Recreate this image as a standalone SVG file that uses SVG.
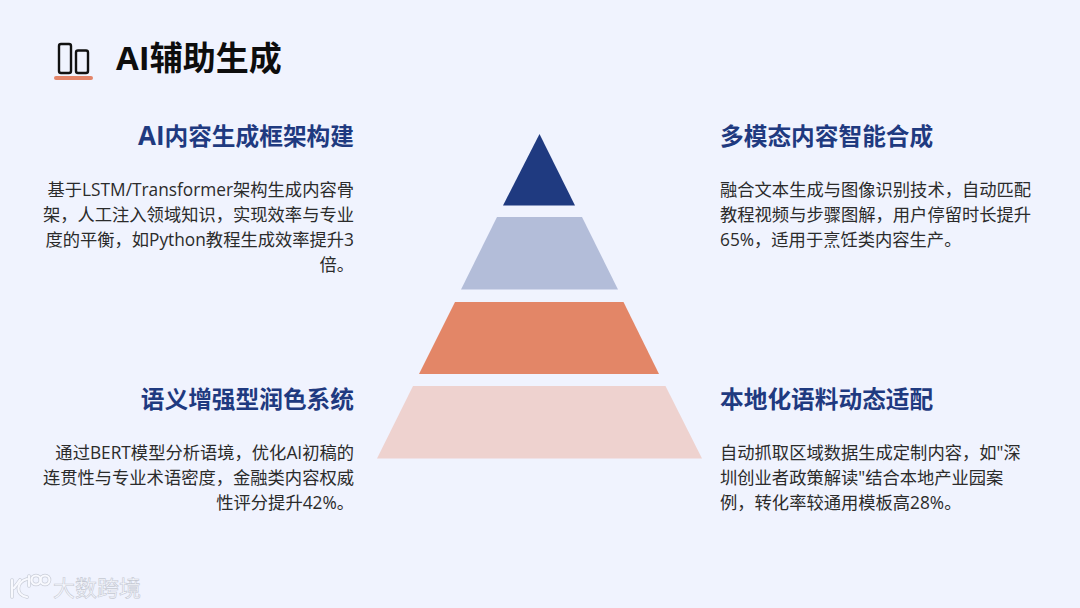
<svg xmlns="http://www.w3.org/2000/svg" width="1080" height="608" viewBox="0 0 1080 608">
<style>
text{font-family:"Open Sans","Noto Sans CJK SC",sans-serif}
.h{font-size:23.700px;font-weight:700;fill:#1f3a80}
.b{font-size:17.300px;fill:#2b2b2b}
.r{text-anchor:end}
.wm{fill:#f8f9fe;stroke:#c4c8d2;stroke-width:.6px}
.lo{fill:none;stroke:#c9cdd8;stroke-width:3.600px;stroke-linecap:round}
.li{fill:none;stroke:#f8f9fe;stroke-width:2.200px;stroke-linecap:round}
</style>
<defs>
<g id="logo">
<path d="M12 580V597"/>
<path d="M14 588L20 580"/>
<path d="M27 579C16 582 15 595 27 597"/>
<path d="M29 576V586"/>
<circle cx="36" cy="580" r="4.500"/>
<circle cx="45" cy="580" r="4.500"/>
</g>
</defs>
<rect width="1080" height="608" fill="#f0f3fe"/>
<g id="title-icon" fill="none" stroke="#111" stroke-width="2.400">
<rect x="59" y="44" width="12" height="29" rx="2"/>
<rect x="76" y="50.500" width="12" height="22.500" rx="2"/>
<line x1="56" y1="78" x2="91" y2="78" stroke="#e3856a" stroke-width="4" stroke-linecap="round"/>
</g>
<text id="title" x="116" y="70" font-size="33" font-weight="700" fill="#0d0d0d">AI辅助生成</text>
<g id="pyramid">
<polygon id="tier1" points="539.500,134 575,205.500 503,205.500" fill="#1f3a80"/>
<polygon id="tier2" points="497,217 582,217 618,289.500 461,289.500" fill="#b3bdd9"/>
<polygon id="tier3" points="455,302 623.500,302 659,374 419,374" fill="#e38667"/>
<polygon id="tier4" points="413,386 665.500,386 702,458.500 377,458.500" fill="#eed2cf"/>
</g>
<g id="block-tl">
<text class="h r" x="354" y="145"><tspan font-size="26">AI</tspan>内容生成框架构建</text>
<text class="b r" x="354" y="196" xml:space="preserve">基于LSTM/Transformer架构生成内容骨</text>
<text class="b r" x="354" y="221">架，人工注入领域知识，实现效率与专业</text>
<text class="b r" x="354" y="246">度的平衡，如Python教程生成效率提升3</text>
<text class="b r" x="354" y="271">倍。</text>
</g>
<g id="block-tr">
<text class="h" x="720" y="145">多模态内容智能合成</text>
<text class="b" x="720" y="196">融合文本生成与图像识别技术，自动匹配</text>
<text class="b" x="720" y="221">教程视频与步骤图解，用户停留时长提升</text>
<text class="b" x="720" y="246">65%，适用于烹饪类内容生产。</text>
</g>
<g id="block-bl">
<text class="h r" x="354" y="408">语义增强型润色系统</text>
<text class="b r" x="354" y="459">通过BERT模型分析语境，优化AI初稿的</text>
<text class="b r" x="354" y="484">连贯性与专业术语密度，金融类内容权威</text>
<text class="b r" x="354" y="509">性评分提升42%。</text>
</g>
<g id="block-br">
<text class="h" x="720" y="408">本地化语料动态适配</text>
<text class="b" x="720" y="459">自动抓取区域数据生成定制内容，如"深</text>
<text class="b" x="720" y="484">圳创业者政策解读"结合本地产业园案</text>
<text class="b" x="720" y="509">例，转化率较通用模板高28%。</text>
</g>
<g id="watermark">
<use href="#logo" class="lo"/>
<use href="#logo" class="li"/>
<text class="wm" x="53" y="596" font-size="22">大数跨境</text>
</g>
</svg>
